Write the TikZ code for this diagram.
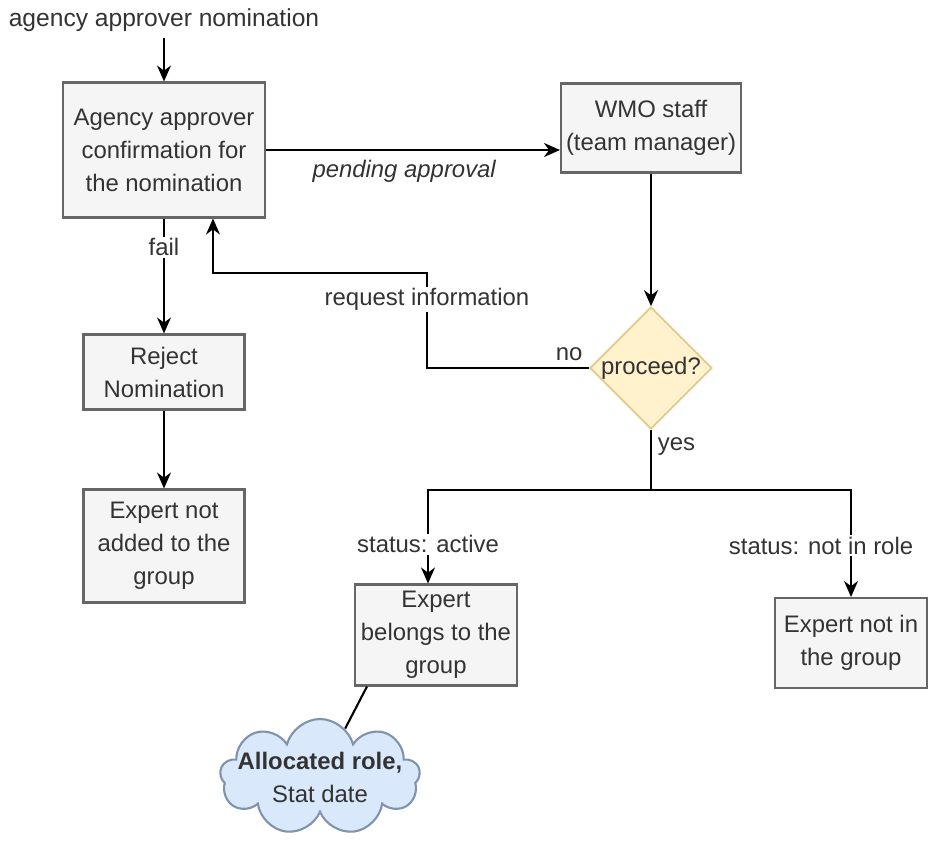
\documentclass[tikz,border=0pt]{standalone}
\usepackage{fontspec}
\setmainfont{Liberation Sans}
\usetikzlibrary{shapes.geometric,shapes.symbols,arrows.meta}
\definecolor{boxfill}{HTML}{F5F5F5}
\definecolor{boxline}{HTML}{666666}
\definecolor{txt}{HTML}{333333}
\definecolor{decfill}{HTML}{FFF2CC}
\definecolor{decline}{HTML}{E0C98A}
\definecolor{cloudfill}{HTML}{DAE8FC}
\definecolor{cloudline}{HTML}{7F93AD}
\newcommand\diafont{\fontsize{13.6}{18.8}\selectfont}
\begin{document}
\begin{tikzpicture}[x=0.02cm, y=-0.02cm,
  every node/.style={font=\diafont, text=txt},
  stepbox/.style={draw=boxline, fill=boxfill, line width=1.2pt, align=center, inner sep=2pt},
  decision/.style={diamond, aspect=1, draw=decline, fill=decfill, line width=1pt, inner sep=0pt, minimum width=2.36cm, minimum height=2.4cm},
  note/.style={cloud, cloud puffs=9, aspect=2.6, draw=cloudline, fill=cloudfill, line width=1.2pt, align=center, inner sep=0pt, minimum width=4cm, minimum height=1.45cm},
  lbl/.style={fill=white, inner sep=1pt},
  link/.style={line width=1.2pt, draw=black},
  arr/.style={link, -{Stealth[length=3.2mm, width=2.8mm]}}]
\useasboundingbox (0,0) rectangle (928,841);

% nodes
\node[font=\fontsize{14}{18.8}\selectfont] (start) at (164,20) {agency approver nomination};
\node[stepbox, minimum width=4.04cm, minimum height=2.7cm] (conf) at (164,150) {Agency approver\\confirmation for\\the nomination};
\node[stepbox, minimum width=3.6cm, minimum height=1.78cm] (wmo) at (651,128) {WMO staff\\(team manager)};
\node[decision] (dec) at (651,368) {proceed?};
\node[stepbox, minimum width=3.22cm, minimum height=1.5cm] (rej) at (164,372) {Reject\\Nomination};
\node[stepbox, minimum width=3.22cm, minimum height=2.26cm] (notadd) at (164,546) {Expert not\\added to the\\group};
\node[stepbox, minimum width=3.24cm, minimum height=2.02cm] (belong) at (436,635) {Expert\\belongs to the\\group};
\node[stepbox, minimum width=3.04cm, minimum height=1.8cm] (notin) at (851,643) {Expert not in\\the group};
\node[note] (role) at (320,777) {\makebox[0pt]{\bfseries Allocated role,}\\\makebox[0pt]{Stat date}};
\coordinate (back) at (427,273);
\coordinate (split) at (651,490);

% connectors
\draw[arr] (start) -- (conf);
\draw[arr] (conf.east) -- node[below, pos=0.47, font=\diafont\itshape, yshift=-2pt] {pending approval} (conf.east -| wmo.west);
\draw[arr] (wmo.south) -- (dec.north);
\draw[arr] (dec.west) -| node[pos=0.04, above, xshift=-4pt] {no} node[pos=0.86, lbl] {request information} (back) -| ([xshift=0.98cm]conf.south);
\draw[arr] (conf) -- node[pos=0.25, lbl] {fail} (rej);
\draw[arr] (rej) -- (notadd);
\draw[link] (dec.south) -- node[pos=0.28, right] {yes} (split);
\draw[arr] (split) -| node[pos=0.79, lbl] {status: active} ([xshift=-0.16cm]belong.north);
\draw[arr] (split) -| node[pos=0.76, lbl, xshift=-0.6cm] {status: not in role} (notin.north);
\draw[link] ([xshift=0.26cm]belong.south west) -- (role);
\end{tikzpicture}
\end{document}
